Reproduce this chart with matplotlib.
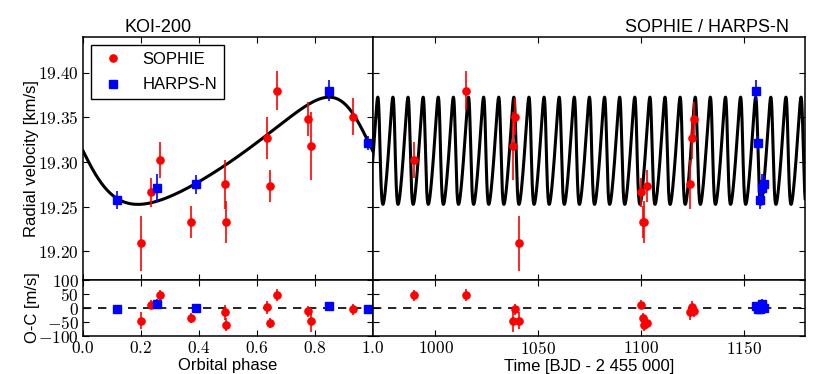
import numpy as np
import matplotlib
matplotlib.use('Agg')
import matplotlib.pyplot as plt
from matplotlib.ticker import FuncFormatter, MultipleLocator
from matplotlib.lines import Line2D

plt.rcParams['font.family'] = ['Liberation Sans', 'DejaVu Sans']
plt.rcParams['mathtext.fontset'] = 'cm'

# orbit
period = 7.3406
t0 = 1149.27
ecc = 0.27
omega = np.radians(69.5)
k_amp = 0.060
gamma = 19.307

# SOPHIE
sophie_time = [989.74, 1014.71, 1037.60, 1038.67, 1040.62, 1099.60,
               1100.61, 1101.50, 1102.63, 1123.50, 1124.56, 1125.60]
sophie_rv = [19.302, 19.380, 19.318, 19.351, 19.209, 19.266,
             19.233, 19.233, 19.273, 19.275, 19.327, 19.348]
sophie_err = [0.020, 0.022, 0.038, 0.021, 0.031, 0.016,
              0.018, 0.024, 0.018, 0.027, 0.023, 0.019]
sophie_oc = [45, 47, -47, -5, -45, 12, -37, -59, -55, -16, 2, -12]

# HARPS-N
harps_time = [1155.50, 1156.49, 1157.48, 1158.48, 1159.47]
harps_rv = [19.380, 19.321, 19.258, 19.271, 19.275]
harps_err = [0.012, 0.008, 0.010, 0.016, 0.011]
harps_oc = [7, -5, -5, 16, 1]


def phase_of(t):
    return np.mod((np.asarray(t) - t0) / period, 1.0)


def model_rv(ph):
    nu_tr = np.pi / 2 - omega
    e_tr = 2 * np.arctan(np.sqrt((1 - ecc) / (1 + ecc)) * np.tan(nu_tr / 2))
    m_tr = e_tr - ecc * np.sin(e_tr)
    m = m_tr + 2 * np.pi * np.asarray(ph)
    ea = m.copy()
    for _ in range(40):
        ea = ea - (ea - ecc * np.sin(ea) - m) / (1 - ecc * np.cos(ea))
    nu = 2 * np.arctan2(np.sqrt(1 + ecc) * np.sin(ea / 2), np.sqrt(1 - ecc) * np.cos(ea / 2))
    return gamma + k_amp * (np.cos(nu + omega) + ecc * np.cos(omega))


fig = plt.figure(figsize=(8.3, 3.74), dpi=100)
L, M, R = 0.1, 0.449, 0.970
B0, H0 = 0.1016, 0.1497
B1, T1 = 0.2513, 0.901
ax_ph = fig.add_axes([L, B1, M - L, T1 - B1])
ax_t = fig.add_axes([M, B1, R - M, T1 - B1])
ax_ph_oc = fig.add_axes([L, B0, M - L, H0])
ax_t_oc = fig.add_axes([M, B0, R - M, H0])

ph_grid = np.linspace(0, 1, 600)
t_grid = np.linspace(969.5, 1179.5, 6000)
ax_ph.plot(ph_grid, model_rv(ph_grid), 'k-', lw=2.2)
ax_t.plot(t_grid, model_rv(phase_of(t_grid)), 'k-', lw=2.2)

kw_s = dict(fmt='o', color='red', mec='red', ms=5.2, elinewidth=1.2, capsize=0, zorder=3)
kw_h = dict(fmt='s', color='blue', mec='blue', ms=5.2, elinewidth=1.2, capsize=0, zorder=3)
serr = np.array(sophie_err)
herr = np.array(harps_err)

ax_ph.errorbar(phase_of(sophie_time), sophie_rv, yerr=serr, **kw_s)
ax_ph.errorbar(phase_of(harps_time), harps_rv, yerr=herr, **kw_h)
ax_t.errorbar(sophie_time, sophie_rv, yerr=serr, **kw_s)
ax_t.errorbar(harps_time, harps_rv, yerr=herr, **kw_h)

ax_ph_oc.errorbar(phase_of(sophie_time), sophie_oc, yerr=serr * 1000, **kw_s)
ax_ph_oc.errorbar(phase_of(harps_time), harps_oc, yerr=herr * 1000, **kw_h)
ax_t_oc.errorbar(sophie_time, sophie_oc, yerr=serr * 1000, **kw_s)
ax_t_oc.errorbar(harps_time, harps_oc, yerr=herr * 1000, **kw_h)

for ax in (ax_ph_oc, ax_t_oc):
    ax.axhline(0, color='k', ls='--', lw=1.2, dashes=(5, 4), zorder=1)
    ax.set_ylim(-100, 100)
    ax.yaxis.set_major_locator(MultipleLocator(50))

for ax in (ax_ph, ax_t):
    ax.set_ylim(19.168, 19.44)
    ax.yaxis.set_major_locator(MultipleLocator(0.05))
    ax.tick_params(labelbottom=False)

ax_ph.set_xlim(0, 1)
ax_ph_oc.set_xlim(0, 1)
ax_t.set_xlim(969.5, 1179.5)
ax_t_oc.set_xlim(969.5, 1179.5)
for ax in (ax_ph, ax_ph_oc):
    ax.xaxis.set_major_locator(MultipleLocator(0.2))
    ax.xaxis.set_major_formatter(FuncFormatter(lambda v, p: r'$%.1f$' % v))
for ax in (ax_t, ax_t_oc):
    ax.xaxis.set_major_locator(MultipleLocator(50))
    ax.xaxis.set_major_formatter(FuncFormatter(lambda v, p: r'$%d$' % v))
    ax.tick_params(labelleft=False)

ax_ph.yaxis.set_major_formatter(FuncFormatter(lambda v, p: r'$%.2f$' % v))
ax_ph_oc.yaxis.set_major_formatter(FuncFormatter(lambda v, p: r'$%d$' % round(v)))

for ax in (ax_ph, ax_t, ax_ph_oc, ax_t_oc):
    ax.tick_params(direction='in', top=True, right=True, length=4, width=0.8,
                   labelsize=12.5, pad=3)
    for s in ax.spines.values():
        s.set_linewidth(1.1)

ax_ph.set_ylabel('Radial velocity [km/s]', fontsize=12)
ax_ph_oc.set_ylabel('O-C [m/s]', fontsize=12)
ax_ph.yaxis.set_label_coords(-0.153, 0.5)
ax_ph_oc.yaxis.set_label_coords(-0.148, 0.5)
ax_ph_oc.set_xlabel('Orbital phase', fontsize=12, labelpad=1)
ax_t_oc.set_xlabel('Time [BJD - 2 455 000]', fontsize=12, labelpad=1)

fig.text(0.19, 0.914, 'KOI-200', ha='center', va='baseline', fontsize=13)
fig.text(0.951, 0.914, 'SOPHIE / HARPS-N', ha='right', va='baseline', fontsize=13)

handles = [Line2D([], [], ls='', marker='o', color='red', ms=5.2),
           Line2D([], [], ls='', marker='s', color='blue', ms=5.2)]
leg = ax_ph.legend(handles, ['SOPHIE', 'HARPS-N'], loc='upper left', fontsize=12,
                   fancybox=False, edgecolor='black', framealpha=1, numpoints=1,
                   handletextpad=0.85, borderpad=0.4, labelspacing=0.62,
                   borderaxespad=0.5, handlelength=1.8)
leg.get_frame().set_linewidth(1.0)

fig.savefig('out.png', dpi=100)
